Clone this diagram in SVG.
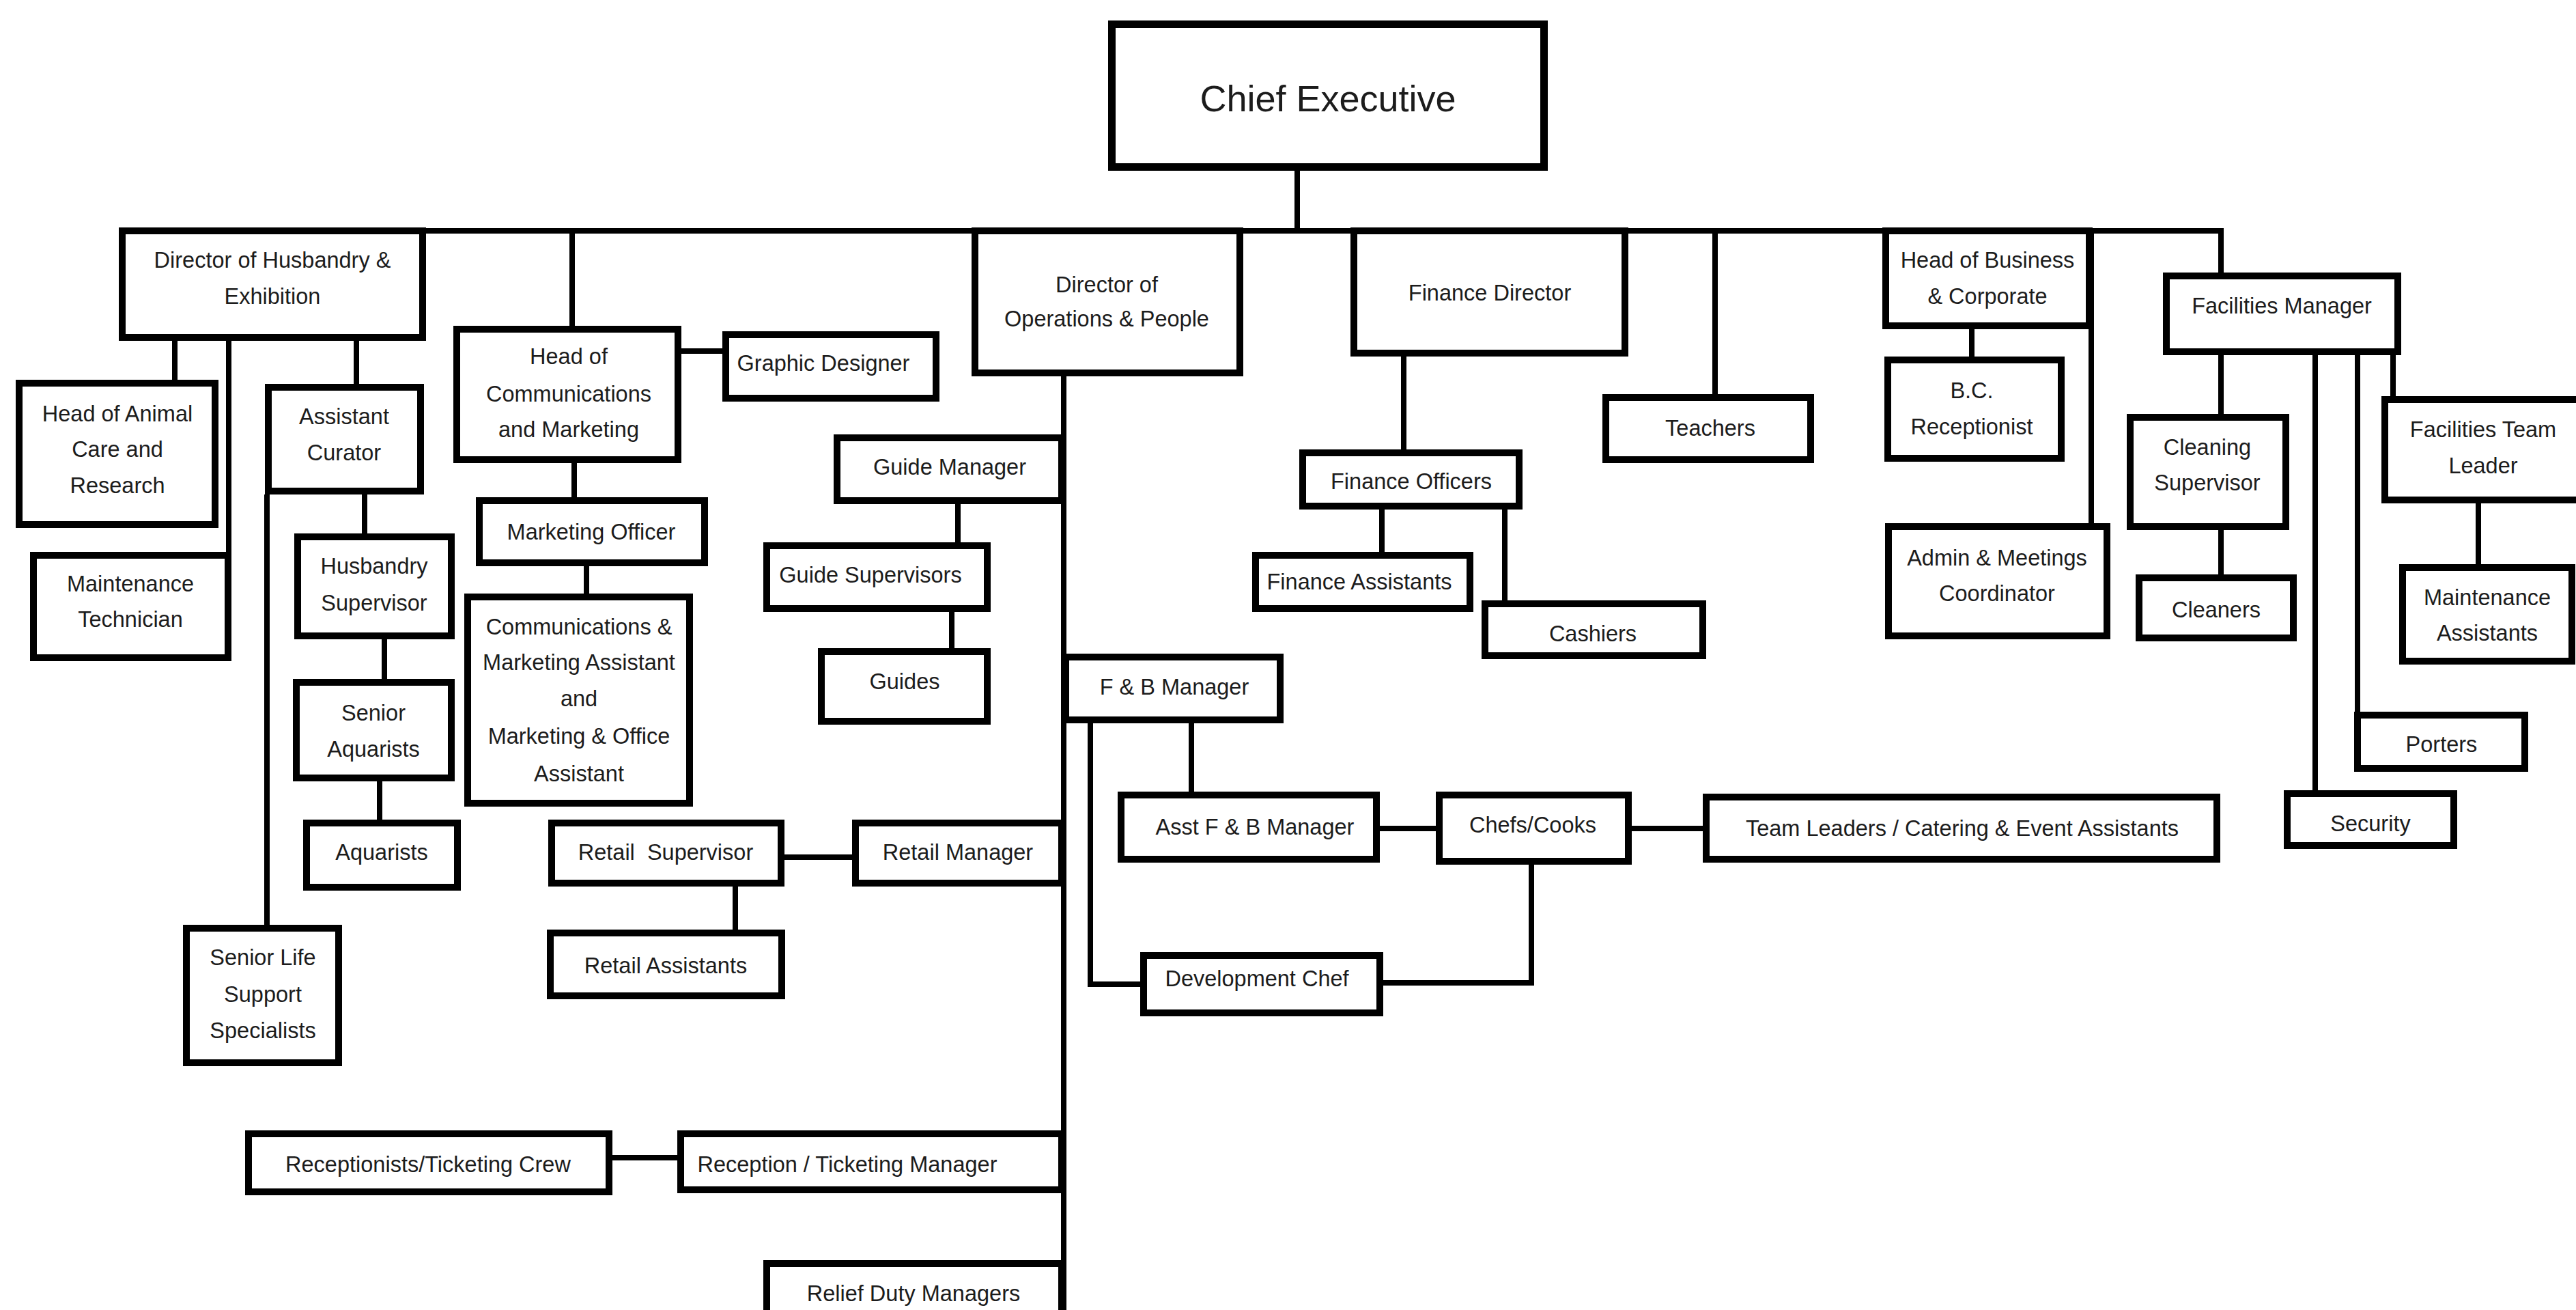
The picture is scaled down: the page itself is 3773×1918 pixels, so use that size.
<svg xmlns="http://www.w3.org/2000/svg" width="3773" height="1918" viewBox="0 0 3773 1918">
<style>
.box{fill:#fff;stroke:#000;stroke-width:10}
.big{stroke-width:11}
.con{fill:none;stroke:#000;stroke-width:8;stroke-linejoin:miter;stroke-linecap:butt}
text{font-family:"Liberation Sans",Arial,sans-serif;font-size:32.5px;fill:#1c1c1c;text-anchor:middle}
.title{font-size:54px}
</style>
<rect width="3773" height="1918" fill="#fff"/>
<g id="connectors">
<path class="con" d="M1900,250 V338"/>
<path class="con" d="M178,338 H3253 V399"/>
<path class="con" d="M838,338 V477"/>
<path class="con" d="M2512,338 V577"/>
<path class="con" d="M3063,338 V766"/>
<path class="con" d="M256,499 V556"/>
<path class="con" d="M335,499 V808"/>
<path class="con" d="M522,499 V562"/>
<path class="con" d="M534,724 V781"/>
<path class="con" d="M391,724 V1354"/>
<path class="con" d="M563,936 V994"/>
<path class="con" d="M556,1144 V1200"/>
<path class="con" d="M998,514 H1058"/>
<path class="con" d="M841,678 V728"/>
<path class="con" d="M859,829 V869"/>
<path class="con" d="M1149,1255 H1248"/>
<path class="con" d="M1077,1298 V1361"/>
<path class="con" d="M1558,551 V1918"/>
<path class="con" d="M1403,738 V794"/>
<path class="con" d="M1394,896 V949"/>
<path class="con" d="M1745,1059 V1159"/>
<path class="con" d="M1597,1059 V1441 H1670"/>
<path class="con" d="M2021,1213 H2103"/>
<path class="con" d="M2390,1213 H2494"/>
<path class="con" d="M2026,1439 H2243 V1266"/>
<path class="con" d="M897,1695 H992"/>
<path class="con" d="M2056,522 V658"/>
<path class="con" d="M2024,746 V808"/>
<path class="con" d="M2204,746 V879"/>
<path class="con" d="M2888,482 V522"/>
<path class="con" d="M3253,520 V606"/>
<path class="con" d="M3391,520 V1157"/>
<path class="con" d="M3453,520 V1042"/>
<path class="con" d="M3505,520 V580"/>
<path class="con" d="M3253,776 V841"/>
<path class="con" d="M3630,737 V826"/>
</g>
<g id="chief"><rect class="box big" x="1628.5" y="35.5" width="633" height="209"/><text class="title" x="1945" y="163">Chief Executive</text></g>
<g id="dir-husbandry"><rect class="box" x="179" y="338" width="440" height="156"/><text x="399" y="392">Director of Husbandry &amp;</text><text x="399" y="445">Exhibition</text></g>
<g id="head-animal"><rect class="box" x="28" y="561" width="287" height="207"/><text x="172" y="617">Head of Animal</text><text x="172" y="669">Care and</text><text x="172" y="722">Research</text></g>
<g id="maint-tech"><rect class="box" x="49" y="813" width="285" height="150"/><text x="191" y="866">Maintenance</text><text x="191" y="918">Technician</text></g>
<g id="asst-curator"><rect class="box" x="393" y="567" width="223" height="152"/><text x="504" y="621">Assistant</text><text x="504" y="674">Curator</text></g>
<g id="husb-sup"><rect class="box" x="436" y="786" width="225" height="145"/><text x="548" y="840">Husbandry</text><text x="548" y="894">Supervisor</text></g>
<g id="senior-aq"><rect class="box" x="434" y="999" width="227" height="140"/><text x="547" y="1055">Senior</text><text x="547" y="1108">Aquarists</text></g>
<g id="aquarists"><rect class="box" x="449" y="1205" width="221" height="94"/><text x="559" y="1259">Aquarists</text></g>
<g id="slss"><rect class="box" x="273" y="1359" width="223" height="197"/><text x="385" y="1413">Senior Life</text><text x="385" y="1467">Support</text><text x="385" y="1520">Specialists</text></g>
<g id="head-comms"><rect class="box" x="669" y="482" width="324" height="191"/><text x="833" y="533">Head of</text><text x="833" y="588">Communications</text><text x="833" y="640">and Marketing</text></g>
<g id="graphic"><rect class="box" x="1063" y="490" width="308" height="93"/><text x="1206" y="543">Graphic Designer</text></g>
<g id="mkt-officer"><rect class="box" x="702" y="733" width="330" height="91"/><text x="866" y="790">Marketing Officer</text></g>
<g id="comm-asst"><rect class="box" x="685" y="874" width="325" height="302"/><text x="848" y="929">Communications &amp;</text><text x="848" y="981">Marketing Assistant</text><text x="848" y="1034">and</text><text x="848" y="1089">Marketing &amp; Office</text><text x="848" y="1144">Assistant</text></g>
<g id="retail-sup"><rect class="box" x="808" y="1205" width="336" height="88"/><text x="975" y="1259" xml:space="preserve">Retail  Supervisor</text></g>
<g id="retail-asst"><rect class="box" x="806" y="1366" width="339" height="92"/><text x="975" y="1425">Retail Assistants</text></g>
<g id="retail-mgr"><rect class="box" x="1253" y="1205" width="302" height="88"/><text x="1403" y="1259">Retail Manager</text></g>
<g id="dir-ops"><rect class="box" x="1428" y="338" width="388" height="208"/><text x="1621" y="428">Director of</text><text x="1621" y="478">Operations &amp; People</text></g>
<g id="guide-mgr"><rect class="box" x="1226" y="641" width="329" height="92"/><text x="1391" y="695">Guide Manager</text></g>
<g id="guide-sup"><rect class="box" x="1123" y="799" width="323" height="92"/><text x="1275" y="853">Guide Supervisors</text></g>
<g id="guides"><rect class="box" x="1203" y="954" width="243" height="102"/><text x="1325" y="1009">Guides</text></g>
<g id="fb-mgr"><rect class="box" x="1561" y="962" width="314" height="92"/><text x="1720" y="1017">F &amp; B Manager</text></g>
<g id="asst-fb"><rect class="box" x="1642" y="1164" width="374" height="94"/><text x="1838" y="1222">Asst F &amp; B Manager</text></g>
<g id="dev-chef"><rect class="box" x="1675" y="1399" width="346" height="84"/><text x="1841" y="1444">Development Chef</text></g>
<g id="chefs"><rect class="box" x="2108" y="1164" width="277" height="97"/><text x="2245" y="1219">Chefs/Cooks</text></g>
<g id="team-leaders"><rect class="box" x="2499" y="1167" width="748" height="91"/><text x="2874" y="1224">Team Leaders / Catering &amp; Event Assistants</text></g>
<g id="fin-dir"><rect class="box" x="1983" y="338" width="397" height="179"/><text x="2182" y="440">Finance Director</text></g>
<g id="fin-off"><rect class="box" x="1908" y="663" width="317" height="78"/><text x="2067" y="716">Finance Officers</text></g>
<g id="fin-asst"><rect class="box" x="1839" y="813" width="314" height="78"/><text x="1991" y="863">Finance Assistants</text></g>
<g id="cashiers"><rect class="box" x="2175" y="884" width="319" height="76"/><text x="2333" y="939">Cashiers</text></g>
<g id="teachers"><rect class="box" x="2352" y="582" width="300" height="91"/><text x="2505" y="638">Teachers</text></g>
<g id="head-business"><rect class="box" x="2762" y="338" width="298" height="139"/><text x="2911" y="392">Head of Business</text><text x="2911" y="445">&amp; Corporate</text></g>
<g id="bc-recep"><rect class="box" x="2765" y="527" width="254" height="144"/><text x="2888" y="583">B.C.</text><text x="2888" y="636">Receptionist</text></g>
<g id="admin"><rect class="box" x="2766" y="771" width="320" height="160"/><text x="2925" y="828">Admin &amp; Meetings</text><text x="2925" y="880">Coordinator</text></g>
<g id="fac-mgr"><rect class="box" x="3173" y="404" width="339" height="111"/><text x="3342" y="459">Facilities Manager</text></g>
<g id="clean-sup"><rect class="box" x="3120" y="611" width="228" height="160"/><text x="3233" y="666">Cleaning</text><text x="3233" y="718">Supervisor</text></g>
<g id="cleaners"><rect class="box" x="3133" y="846" width="226" height="88"/><text x="3246" y="904">Cleaners</text></g>
<g id="fac-tl"><rect class="box" x="3493" y="585" width="302" height="147"/><text x="3637" y="640">Facilities Team</text><text x="3637" y="693">Leader</text></g>
<g id="maint-asst"><rect class="box" x="3519" y="831" width="248" height="137"/><text x="3643" y="886">Maintenance</text><text x="3643" y="938">Assistants</text></g>
<g id="porters"><rect class="box" x="3453" y="1047" width="245" height="78"/><text x="3576" y="1101">Porters</text></g>
<g id="security"><rect class="box" x="3350" y="1162" width="244" height="76"/><text x="3472" y="1217">Security</text></g>
<g id="recep-crew"><rect class="box" x="364" y="1660" width="528" height="85"/><text x="627" y="1716">Receptionists/Ticketing Crew</text></g>
<g id="recep-mgr"><rect class="box" x="997" y="1660" width="558" height="82"/><text x="1241" y="1716">Reception / Ticketing Manager</text></g>
<g id="relief"><rect class="box" x="1123" y="1850" width="432" height="95"/><text x="1338" y="1905">Relief Duty Managers</text></g>
</svg>
